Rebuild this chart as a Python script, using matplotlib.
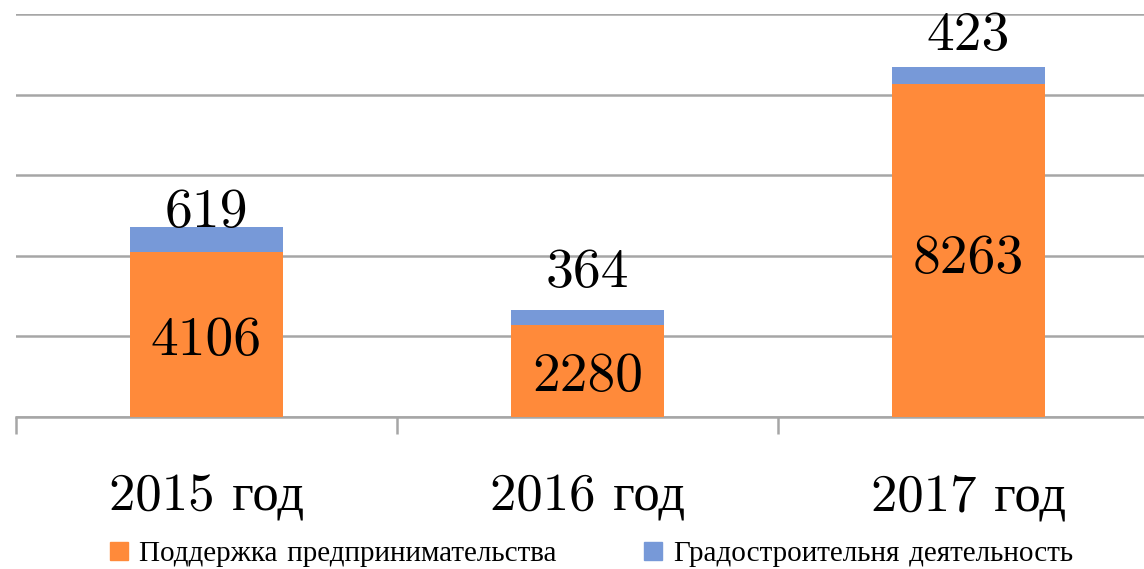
import matplotlib
matplotlib.use("Agg")
import matplotlib.pyplot as plt
import numpy as np
from matplotlib.patches import Patch

categories = ["2015 год", "2016 год", "2017 год"]
support = [4106, 2280, 8263]
urban = [619, 364, 423]
series_names = ["Поддержка предпринимательства", "Градостроительня деятельность"]

ORANGE = "#FF8A3A"
BLUE = "#7799D8"
GRID = "#A6A6A6"
FONT = ["cmr10", "Liberation Serif", "DejaVu Serif"]

fig = plt.figure(figsize=(11.44, 5.69), dpi=100)
ax = fig.add_axes([16/1144, (569-417)/569, (1159-16)/1144, (417-14)/569])
x = np.arange(len(categories))
w = 0.4
ax.bar(x, support, w, color=ORANGE, zorder=3)
ax.bar(x, urban, w, bottom=support, color=BLUE, zorder=3)

ax.set_xlim(-0.5, 2.5)
ax.set_ylim(0, 10000)
ax.set_yticks(np.arange(0, 10001, 2000))
ax.yaxis.grid(True, color=GRID, linewidth=1.8, zorder=0)
ax.tick_params(axis="y", left=False, labelleft=False)
for s in ["top", "right", "left"]:
    ax.spines[s].set_visible(False)
ax.spines["bottom"].set_color(GRID)
ax.spines["bottom"].set_linewidth(1.8)
ax.set_xticks([-0.5, 0.5, 1.5, 2.5])
ax.set_xticklabels([])
ax.tick_params(axis="x", length=12, width=1.8, color=GRID)
for xi, c in zip(x, categories):
    ax.text(xi, -0.2, c, transform=ax.get_xaxis_transform(), ha="center", va="center",
            fontsize=38, family=FONT)

inner_shift = [-170, -160, -220]
top_offsets = [340, 930, 760]
for xi, s, u, d1, d2 in zip(x, support, urban, inner_shift, top_offsets):
    ax.text(xi, s/2 + d1, str(s), ha="center", va="center", fontsize=40, family=FONT, zorder=4)
    ax.text(xi, s + u + d2, str(u), ha="center", va="center", fontsize=40, family=FONT, zorder=4)

handles = [Patch(color=ORANGE), Patch(color=BLUE)]
fig.legend(handles, series_names, loc="center", bbox_to_anchor=(0.517, (569-554)/569),
           ncol=2, frameon=False, prop={"family": FONT, "size": 21},
           handlelength=0.6, handleheight=0.6, handletextpad=0.4, columnspacing=3.0)

fig.savefig("out.png", dpi=100)
